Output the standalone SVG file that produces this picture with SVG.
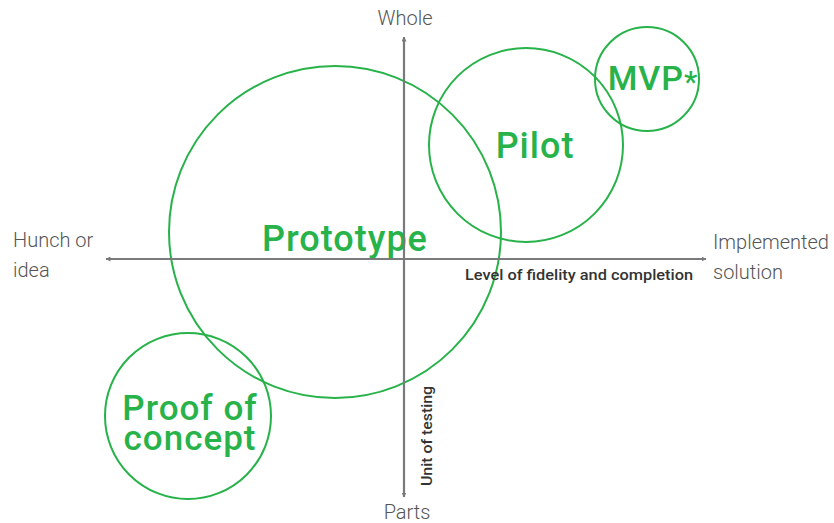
<svg xmlns="http://www.w3.org/2000/svg" width="834" height="523" viewBox="0 0 834 523">
  <defs>
    <marker id="arrow" viewBox="0 0 10 10" refX="9" refY="5" markerWidth="5" markerHeight="5" orient="auto-start-reverse" markerUnits="userSpaceOnUse">
      <path d="M0,0 L10,5 L0,10 z" fill="#7a7a7c"/>
    </marker>
    <style>
      .ring { fill: none; stroke: #27b24a; stroke-width: 2; }
      .big { font-family: Roboto, "Liberation Sans", sans-serif; font-weight: 500; fill: #27b24a; text-anchor: middle; letter-spacing: 1px; }
      .pole { font-family: Roboto, "Liberation Sans", sans-serif; font-weight: 300; font-size: 20px; fill: #555; }
      .axisname { font-family: Roboto, "Liberation Sans", sans-serif; font-weight: 500; font-size: 15px; fill: #333; }
      .axis { stroke: #7a7a7c; stroke-width: 2.2; fill: none; }
    </style>
  </defs>
  <rect width="834" height="523" fill="#ffffff"/>

  <g id="prototype">
    <circle class="ring" cx="335" cy="232" r="166"/>
    <text class="big" x="345" y="251" font-size="36">Prototype</text>
  </g>

  <g id="pilot">
    <circle class="ring" cx="526" cy="145" r="97"/>
    <text class="big" x="535" y="158" font-size="36">Pilot</text>
  </g>

  <g id="mvp">
    <circle class="ring" cx="647" cy="79" r="52"/>
    <text class="big" x="653" y="90" font-size="34">MVP<tspan font-size="30" dy="2">*</tspan></text>
  </g>

  <g id="proof-of-concept">
    <circle class="ring" cx="188" cy="416" r="83"/>
    <text class="big" x="190" y="420" font-size="35">Proof of</text>
    <text class="big" x="190" y="450" font-size="35">concept</text>
  </g>

  <g id="connectors">
    <line class="axis" x1="404" y1="497" x2="404" y2="37" marker-end="url(#arrow)" marker-start="url(#arrow)"/>
    <line class="axis" x1="106" y1="259" x2="706" y2="259" marker-end="url(#arrow)" marker-start="url(#arrow)"/>
  </g>

  <g id="axis-labels">
    <text class="pole" x="405" y="25" text-anchor="middle">Whole</text>
    <text class="pole" x="407" y="519" text-anchor="middle">Parts</text>
    <text class="pole" x="13" y="247">Hunch or</text>
    <text class="pole" x="13" y="277">idea</text>
    <text class="pole" x="713" y="249">Implemented</text>
    <text class="pole" x="713" y="279">solution</text>
    <text class="axisname" x="465" y="280" textLength="228" lengthAdjust="spacingAndGlyphs">Level of fidelity and completion</text>
    <text class="axisname" transform="translate(432,486) rotate(-90)" textLength="100" lengthAdjust="spacingAndGlyphs">Unit of testing</text>
  </g>
</svg>
